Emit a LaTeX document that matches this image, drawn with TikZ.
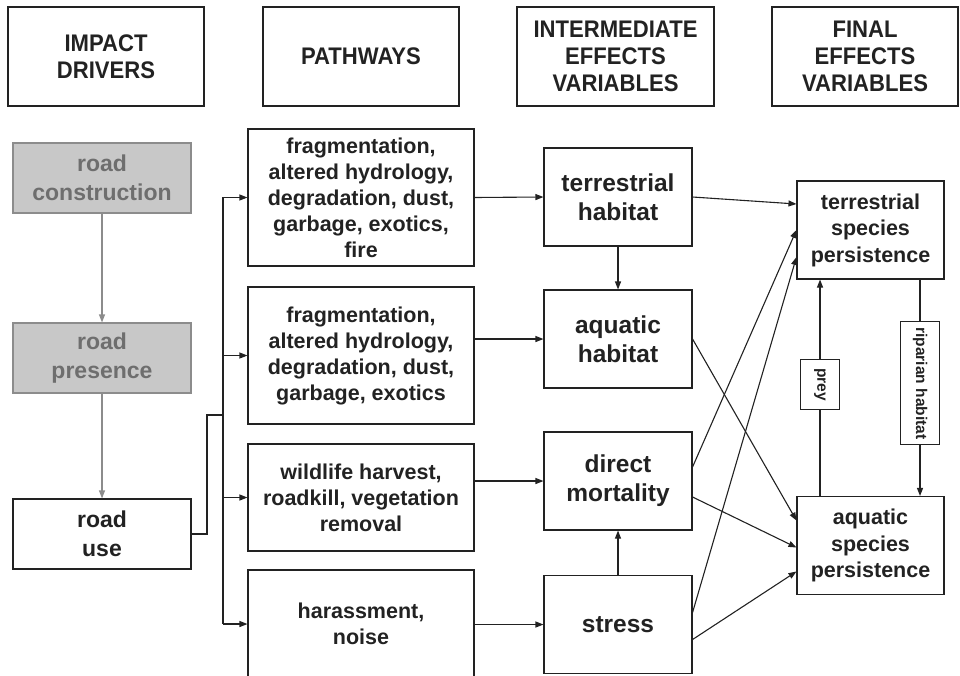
\documentclass[tikz,border=0pt]{standalone}
\usepackage{fontspec}
\setmainfont{Liberation Sans}
\newfontfamily\hdrfont[FakeStretch=0.92]{Liberation Sans}
\usepackage{tikz}
\usetikzlibrary{arrows.meta}
\usepackage{xcolor}
\definecolor{inkgray}{HTML}{222222}
\definecolor{boxgray}{HTML}{C8C8C8}
\definecolor{txtgray}{HTML}{6E6E6E}
\definecolor{edgegray}{HTML}{8C8C8C}

\begin{document}
\begin{tikzpicture}[x=1pt, y=-1pt, line width=1.1pt, color=inkgray,
  header/.style={draw, minimum height=99pt, inner sep=0pt, align=center,
    font=\hdrfont\bfseries\fontsize{24}{27}\selectfont},
  driver/.style={draw, minimum width=178pt, minimum height=70pt, inner sep=0pt,
    align=center, font=\bfseries\fontsize{23}{29}\selectfont},
  olddriver/.style={driver, draw=edgegray, fill=boxgray, text=txtgray},
  pathbox/.style={draw, minimum width=226pt, inner sep=0pt, align=center,
    font=\bfseries\fontsize{21.5}{26}\selectfont},
  effect/.style={draw, minimum width=148pt, minimum height=98pt, inner sep=0pt,
    align=center, font=\bfseries\fontsize{24.5}{29}\selectfont},
  final/.style={draw, minimum width=147pt, minimum height=98pt, inner sep=0pt,
    align=center, font=\bfseries\fontsize{21.5}{26.5}\selectfont},
  tag/.style={draw, fill=white, rotate=-90, inner sep=0pt, minimum height=39pt,
    font=\bfseries\fontsize{15.5}{18}\selectfont},
  arr/.style={-{Triangle[length=8pt,width=6pt]}},
  greyarr/.style={arr, draw=edgegray}
]
\useasboundingbox (0,0) rectangle (960,675);

% column headers
\node[header, minimum width=196pt] (hdrdrivers) at (106,56.5) {IMPACT\\DRIVERS};
\node[header, minimum width=196pt] (hdrpaths) at (361,56.5) {PATHWAYS};
\node[header, minimum width=197pt] (hdrinter) at (615.5,56.5) {INTERMEDIATE\\EFFECTS\\VARIABLES};
\node[header, minimum width=186pt] (hdrfinal) at (865,56.5) {FINAL\\EFFECTS\\VARIABLES};

% impact drivers
\node[olddriver] (roadcon) at (102,178) {road\\construction};
\node[olddriver] (roadpres) at (102,358) {road\\presence};
\node[driver] (roaduse) at (102,534) {road\\use};

% pathways
\node[pathbox, minimum height=137pt] (pfrag) at (361,197.5)
  {fragmentation,\\altered hydrology,\\degradation, dust,\\garbage, exotics,\\fire};
\node[pathbox, minimum height=137pt] (pfragb) at (361,355.5)
  {fragmentation,\\altered hydrology,\\degradation, dust,\\garbage, exotics};
\node[pathbox, minimum height=107pt] (pkill) at (361,497.5)
  {wildlife harvest,\\roadkill, vegetation\\removal};
\node[pathbox, minimum height=108pt] (pnoise) at (361,624) {harassment,\\noise};

% intermediate effects
\node[effect] (terhab) at (618,197) {terrestrial\\habitat};
\node[effect] (aquhab) at (618,339) {aquatic\\habitat};
\node[effect] (mort) at (618,481) {direct\\mortality};
\node[effect] (stress) at (618,624.5) {stress};

% final effects
\node[final] (terspp) at (870.5,230) {terrestrial\\species\\persistence};
\node[final] (aquspp) at (870.5,545.5) {aquatic\\species\\persistence};

% drivers chain and bus
\draw[greyarr] (roadcon) -- (roadpres);
\draw[greyarr] (roadpres) -- (roaduse);
\coordinate (bend) at (207,415);
\coordinate (bustop) at (223,197);
\coordinate (busbot) at (223,624);
\draw (roaduse.east) -| (bend) -- (bend -| bustop);
\draw (bustop) -- (busbot);
\foreach \p in {pfrag,pfragb,pkill,pnoise}
  \draw[arr] (bustop |- \p.west) -- (\p.west);

% pathways to intermediate
\draw[arr] (pfrag.east) -- (terhab.west);
\draw[arr] (pfragb.east |- aquhab.west) -- (aquhab.west);
\draw[arr] (pkill.east |- mort.west) -- (mort.west);
\draw[arr] (pnoise.east |- stress.west) -- (stress.west);
\draw[arr] (terhab) -- (aquhab);
\draw[arr] (stress) -- (mort);

% intermediate to final
\draw[arr] (terhab.east) -- ([yshift=26pt]terspp.west);
\draw[arr] ([yshift=14pt]mort.east) -- (terspp.west);
\draw[arr] ([yshift=12pt]stress.east) -- ([yshift=-27pt]terspp.west);
\draw[arr] (aquhab.east) -- ([yshift=25pt]aquspp.west);
\draw[arr] ([yshift=-16pt]mort.east) -- ([yshift=-2pt]aquspp.west);
\draw[arr] ([yshift=-15pt]stress.east) -- ([yshift=-26pt]aquspp.west);

% between final effects
\draw[arr] ([xshift=-50.5pt]aquspp.north) -- node[tag, pos=0.514, minimum width=50pt] (prey) {prey}
  ([xshift=-50.5pt]terspp.south);
\draw[arr] ([xshift=49.5pt]terspp.south) -- node[tag, pos=0.48, minimum width=123pt] (riparian) {riparian habitat}
  ([xshift=49.5pt]aquspp.north);
\end{tikzpicture}
\end{document}
